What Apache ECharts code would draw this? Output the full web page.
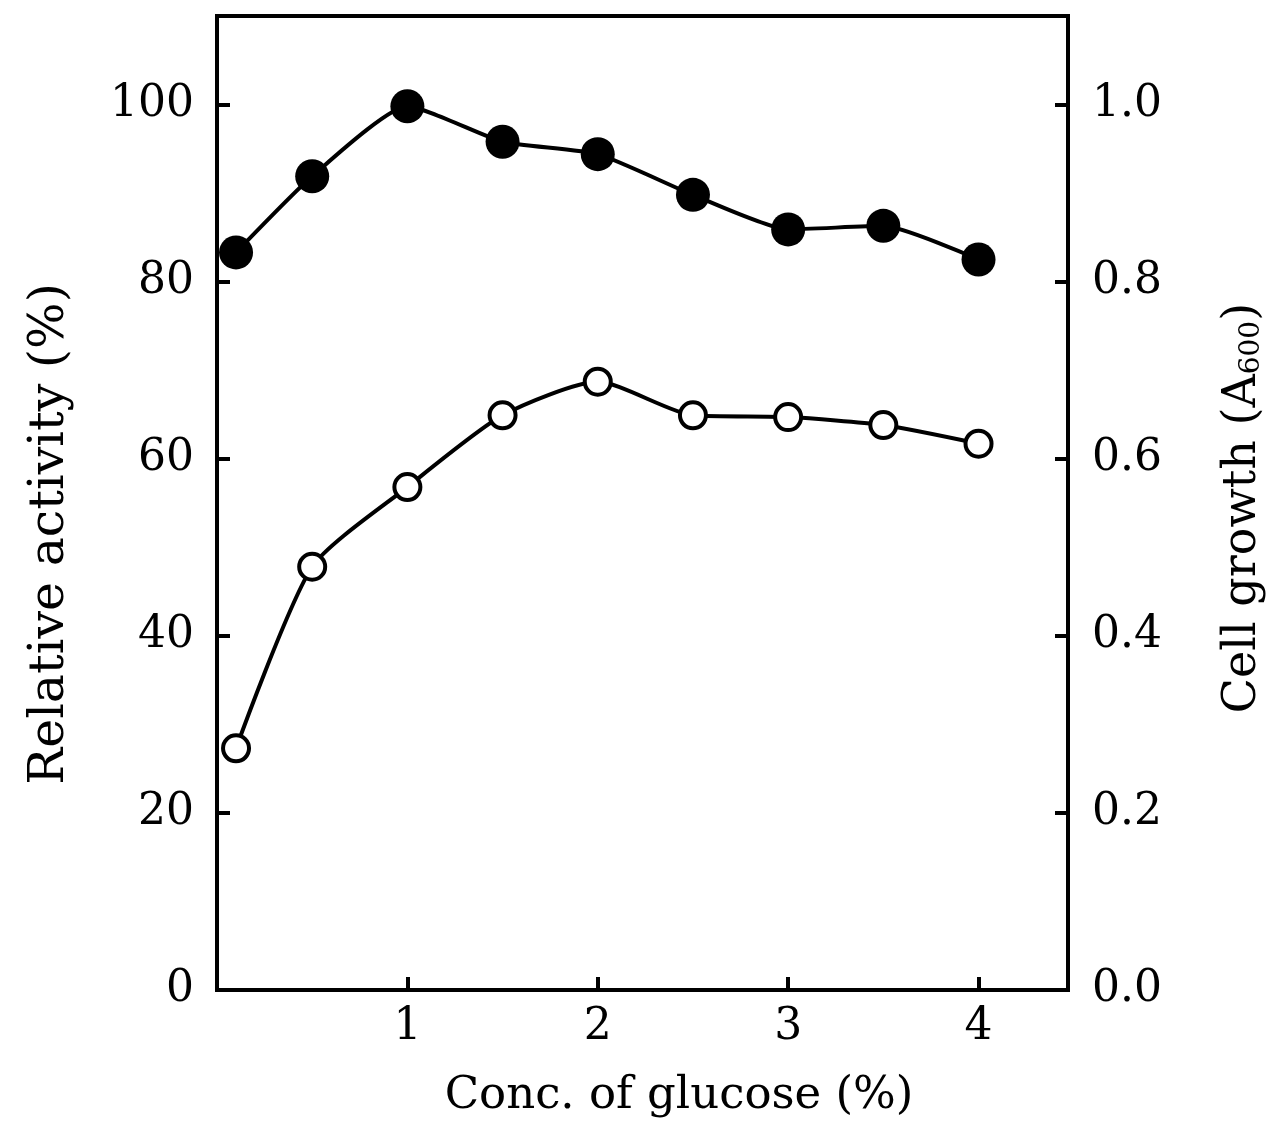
<!DOCTYPE html>
<html>
<head>
<meta charset="utf-8">
<script src="https://cdn.jsdelivr.net/npm/echarts@6/dist/echarts.min.js"></script>
<style>
  html, body { margin: 0; padding: 0; background: #fff; }
  #chart { width: 1271px; height: 1133px; }
</style>
</head>
<body>
<div id="chart"></div>
<script>
// glucose concentration (%)
const glucose = [0.1, 0.5, 1, 1.5, 2, 2.5, 3, 3.5, 4];
// filled circles, left axis
const relativeActivity = [83.3, 91.9, 99.8, 95.8, 94.4, 89.8, 85.9, 86.3, 82.5];
// open circles, right axis
const cellGrowth = [0.273, 0.478, 0.568, 0.649, 0.687, 0.649, 0.647, 0.638, 0.617];

const font = 'DejaVu Serif';
const chart = echarts.init(document.getElementById('chart'));

const lineAxis = { show: true, lineStyle: { color: '#000', width: 4 } };
const tickIn = { show: true, inside: true, length: 13, lineStyle: { color: '#000', width: 4 } };

chart.setOption({
  backgroundColor: '#fff',
  animation: false,
  grid: {
    left: 217, right: 203, top: 16, bottom: 143,
    show: true, borderColor: '#000', borderWidth: 4
  },
  // axis titles are a little off-centre in the original, so place them by hand
  graphic: [
    {
      type: 'text',
      x: 50, y: 534,
      rotation: Math.PI / 2,
      style: {
        text: 'Relative activity (%)',
        font: '49px "DejaVu Serif"',
        fill: '#000',
        align: 'center',
        verticalAlign: 'middle'
      }
    },
    {
      type: 'text',
      x: 1243, y: 508,
      rotation: Math.PI / 2,
      style: {
        text: '{n|Cell growth (A}{s|600}{n|)}',
        fill: '#000',
        align: 'center',
        verticalAlign: 'middle',
        rich: {
          n: { fontFamily: font, fontSize: 46, fill: '#000' },
          s: { fontFamily: font, fontSize: 28, fill: '#000', verticalAlign: 'bottom', padding: [18, 0, 0, 0] }
        }
      }
    },
    {
      type: 'text',
      x: 679, y: 1096,
      style: {
        text: 'Conc. of glucose (%)',
        font: '45px "DejaVu Serif"',
        fill: '#000',
        align: 'center',
        verticalAlign: 'middle'
      }
    }
  ],
  xAxis: {
    type: 'value',
    min: 0, max: 4.47, interval: 1,
    axisLine: lineAxis,
    axisTick: tickIn,
    splitLine: { show: false },
    axisLabel: {
      fontFamily: font, fontSize: 44, color: '#000', margin: 16,
      showMinLabel: false, showMaxLabel: false,
      formatter: v => (v === 0 ? '' : String(v))
    }
  },
  yAxis: [
    {
      type: 'value',
      min: 0, max: 110, interval: 20,
      axisLine: lineAxis,
      axisTick: tickIn,
      splitLine: { show: false },
      axisLabel: {
        fontFamily: font, fontSize: 44, color: '#000', margin: 23,
        showMaxLabel: false
      }
    },
    {
      type: 'value',
      position: 'right',
      min: 0, max: 1.1, interval: 0.2,
      axisLine: lineAxis,
      axisTick: tickIn,
      splitLine: { show: false },
      axisLabel: {
        fontFamily: font, fontSize: 44, color: '#000', margin: 24,
        showMaxLabel: false,
        formatter: v => v.toFixed(1)
      }
    }
  ],
  series: [
    {
      name: 'Relative activity',
      type: 'line',
      yAxisIndex: 0,
      smooth: 0.18,
      data: glucose.map((x, i) => [x, relativeActivity[i]]),
      symbol: 'circle',
      symbolSize: 34,
      itemStyle: { color: '#000' },
      lineStyle: { color: '#000', width: 4 },
      z: 3
    },
    {
      name: 'Cell growth',
      type: 'line',
      yAxisIndex: 1,
      smooth: 0.22,
      data: glucose.map((x, i) => [x, cellGrowth[i]]),
      symbol: 'circle',
      symbolSize: 26,
      itemStyle: { color: '#fff', borderColor: '#000', borderWidth: 4 },
      lineStyle: { color: '#000', width: 4 },
      z: 3
    }
  ]
});
</script>
</body>
</html>
